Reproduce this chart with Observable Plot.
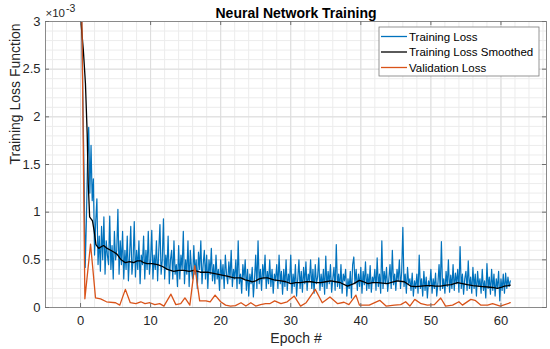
<!DOCTYPE html>
<html><head><meta charset="utf-8">
<script src="https://cdn.jsdelivr.net/npm/d3@7"></script>
<script src="https://cdn.jsdelivr.net/npm/@observablehq/plot@0.6"></script>
<style>
body{margin:0;background:#fff;}
#chart svg{display:block;}
</style></head><body><div id="chart"></div>
<script>
const title = "Neural Network Training";
const xLabel = "Epoch #";
const yLabel = "Training Loss Function";
const yExponentBase = "×10";
const yExponentPower = "-3";
const seriesNames = ["Training Loss", "Training Loss Smoothed", "Validation Loss"];
const seriesColors = ["#0072BD", "#000000", "#D95319"];
const xTicks = [0, 10, 20, 30, 40, 50, 60];
const yTicks = [0, 0.5, 1, 1.5, 2, 2.5, 3];
const yTickLabels = ["0", "0.5", "1", "1.5", "2", "2.5", "3"];
const iterationsPerEpoch = 6;

// Training loss (x10^-3), one row per epoch, 6 iterations each
const trainingLoss = [
  3.6, 3.0, 2.2, 1.4, 0.42, 0.9,
  1.55, 1.89, 1.2, 1.7, 1.12, 1.35,
  0.55, 0.9, 1.14, 0.45, 0.75, 0.38,
  0.85, 0.5, 0.95, 0.35, 0.7, 0.55,
  0.45, 0.96, 0.4, 0.65, 0.3, 0.8,
  0.5, 0.6, 1.03, 0.35, 0.7, 0.45,
  0.8, 0.3, 0.6, 0.4, 0.75, 0.28,
  0.55, 0.85, 0.35, 0.5, 0.9, 0.32,
  0.6, 0.4, 0.7, 0.25, 0.55, 0.45,
  0.75, 0.3, 0.6, 0.4, 0.8, 0.35,
  0.5, 0.81, 0.3, 0.55, 0.4, 0.7,
  0.28, 0.6, 0.87, 0.35, 0.5, 0.93,
  0.3, 0.55, 0.4, 0.75, 0.25, 0.5,
  0.6, 0.3, 0.7, 0.35, 0.45, 0.22,
  0.65, 0.3, 0.55, 0.4, 0.8, 0.25,
  0.5, 0.35, 0.7, 0.22, 0.6, 0.4,
  0.3, 0.65, 0.35, 0.5, 0.2, 0.58,
  0.4, 0.7, 0.25, 0.45, 0.6, 0.3,
  0.55, 0.2, 0.5, 0.35, 0.62, 0.28,
  0.45, 0.25, 0.55, 0.3, 0.4, 0.18,
  0.5, 0.3, 0.45, 0.2, 0.55, 0.35,
  0.25, 0.48, 0.3, 0.6, 0.22, 0.4,
  0.3, 0.5, 0.2, 0.7, 0.25, 0.35,
  0.15, 0.45, 0.3, 0.5, 0.18, 0.4,
  0.12, 0.35, 0.25, 0.42, 0.11, 0.3,
  0.55, 0.2, 0.7, 0.25, 0.4, 0.18,
  0.45, 0.3, 0.55, 0.2, 0.38, 0.25,
  0.5, 0.22, 0.4, 0.15, 0.35, 0.28,
  0.45, 0.2, 0.55, 0.25, 0.38, 0.14,
  0.4, 0.22, 0.5, 0.18, 0.35, 0.26,
  0.55, 0.15, 0.35, 0.22, 0.45, 0.12,
  0.3, 0.5, 0.2, 0.38, 0.16, 0.42,
  0.25, 0.48, 0.18, 0.35, 0.28, 0.5,
  0.2, 0.4, 0.15, 0.45, 0.25, 0.32,
  0.52, 0.18, 0.35, 0.22, 0.4, 0.14,
  0.54, 0.2, 0.38, 0.25, 0.45, 0.16,
  0.3, 0.42, 0.18, 0.66, 0.22, 0.35,
  0.2, 0.45, 0.15, 0.35, 0.28, 0.4,
  0.12, 0.3, 0.2, 0.38, 0.1, 0.45,
  0.53, 0.25, 0.4, 0.18, 0.35, 0.22,
  0.42, 0.15, 0.38, 0.24, 0.48, 0.18,
  0.35, 0.2, 0.44, 0.16, 0.32, 0.26,
  0.4, 0.18, 0.52, 0.22, 0.35, 0.15,
  0.7, 0.2, 0.38, 0.25, 0.42, 0.17,
  0.3, 0.45, 0.2, 0.6, 0.24, 0.35,
  0.18, 0.4, 0.28, 0.5, 0.2, 0.38,
  0.84, 0.22, 0.35, 0.15, 0.42, 0.25,
  0.3, 0.18, 0.36, 0.12, 0.28, 0.2,
  0.35, 0.15, 0.55, 0.2, 0.3, 0.12,
  0.38, 0.18, 0.32, 0.1, 0.28, 0.22,
  0.4, 0.15, 0.3, 0.2, 0.36, 0.12,
  0.25, 0.45, 0.18, 0.69, 0.2, 0.3,
  0.15, 0.38, 0.22, 0.5, 0.16, 0.34,
  0.2, 0.45, 0.18, 0.36, 0.25, 0.4,
  0.16, 0.64, 0.2, 0.35, 0.14, 0.3,
  0.38, 0.18, 0.49, 0.2, 0.32, 0.15,
  0.42, 0.2, 0.35, 0.12, 0.38, 0.22,
  0.3, 0.15, 0.4, 0.18, 0.28, 0.1,
  0.46, 0.2, 0.32, 0.14, 0.4, 0.18,
  0.35, 0.12, 0.3, 0.2, 0.38, 0.07,
  0.3, 0.18, 0.35, 0.15, 0.36, 0.2,
  0.32, 0.22, 0.28
];

const smoothedEpoch = [0,0.4,0.7,0.95,1.1,1.3,1.5,1.7,1.93,2.2,2.6,3.0,3.3,3.8,4.3,4.8,5.2,5.8,6.4,7.0,7.6,8.1,8.6,9.0,9.5,10.2,11.0,11.7,12.4,13.3,14.0,14.8,15.5,16.2,17.1,18.1,18.8,19.5,20.2,20.9,21.9,22.9,23.5,24.1,24.5,25.0,25.5,26.1,26.7,27.6,28.6,29.3,30.0,30.7,31.4,32.2,32.9,33.6,34.3,35.0,35.7,36.4,37.1,38.1,39.0,39.8,40.4,41.0,41.7,42.4,43.1,43.8,44.5,45.2,46.2,47.1,47.8,48.6,49.3,50.0,50.7,51.4,52.2,52.9,53.8,54.5,55.2,56.0,56.7,57.4,58.1,58.8,59.5,60.0,60.5,61.0,61.33];
const smoothedLoss = [3.05,2.7,2.35,1.82,1.3,0.95,0.93,0.91,0.81,0.66,0.62,0.64,0.65,0.62,0.6,0.58,0.56,0.5,0.47,0.48,0.47,0.49,0.49,0.47,0.46,0.46,0.45,0.43,0.40,0.38,0.39,0.39,0.38,0.39,0.37,0.37,0.36,0.35,0.34,0.33,0.31,0.31,0.29,0.28,0.27,0.28,0.30,0.31,0.31,0.29,0.28,0.27,0.25,0.26,0.26,0.27,0.27,0.26,0.26,0.27,0.28,0.27,0.26,0.225,0.25,0.285,0.27,0.25,0.26,0.26,0.255,0.25,0.265,0.28,0.27,0.225,0.22,0.225,0.23,0.23,0.225,0.225,0.235,0.24,0.26,0.25,0.24,0.23,0.225,0.22,0.215,0.21,0.20,0.21,0.225,0.23,0.235];

const validationEpoch = [0,0.62,1.43,2.14,2.86,3.7,5.0,5.6,6.4,7.1,7.9,8.6,9.2,9.9,10.6,11.3,11.9,12.9,13.6,14.3,14.9,15.6,16.3,17.0,17.9,18.5,19.2,20.0,20.7,21.4,22.1,22.9,23.6,24.3,25.0,25.7,26.4,27.0,27.7,28.6,29.5,30.5,31.4,32.2,33.5,34.5,35.6,36.7,37.6,38.3,39.3,39.8,41.2,42.7,43.6,44.8,45.7,46.4,47.0,47.7,48.6,49.5,50.5,51.4,52.1,53.1,54.0,54.5,55.7,56.3,57.1,58.1,58.8,59.9,61.33];
const validationLoss = [4.4,0.092,0.665,0.10,0.09,0.06,0.05,0.025,0.19,0.05,0.04,0.06,0.04,0.05,0.03,0.04,0.015,0.14,0.03,0.04,0.10,0.025,0.44,0.07,0.07,0.06,0.13,0.06,0.025,0.015,0.02,0.05,0.015,0.05,0.015,0.03,0.04,0.04,0.07,0.04,0.06,0.12,0.015,0.05,0.19,0.05,0.11,0.04,0.055,0.03,0.13,0.025,0.025,0.075,0.015,0.025,0.03,0.06,0.015,0.085,0.04,0.025,0.03,0.10,0.015,0.025,0.06,0.025,0.085,0.075,0.025,0.025,0.04,0.015,0.05];

const train = trainingLoss.map((v, i) => ({epoch: i / iterationsPerEpoch, loss: v}));
const smooth = smoothedEpoch.map((e, i) => ({epoch: e, loss: smoothedLoss[i]}));
const valid = validationEpoch.map((e, i) => ({epoch: e, loss: validationLoss[i]}));

const W = 550, H = 349;
const mT = 21, mL = 45, mR = 4, mB = 42;
const frameW = W - mL - mR, frameH = H - mT - mB;
const xMinor = d3.range(-4, 67, 2);
const yMinor = d3.range(0, 3.0001, 0.1);
const font = "'Liberation Sans', Arial, Helvetica, sans-serif";

const chart = Plot.plot({
  width: W, height: H,
  marginTop: mT, marginLeft: mL, marginRight: mR, marginBottom: mB,
  style: {fontFamily: font, fontSize: "13px", color: "#262626", background: "#fff"},
  x: {domain: [-5, 66.5]},
  y: {domain: [0, 3]},
  marks: [
    Plot.gridX(xMinor, {stroke: "#ececec", strokeOpacity: 1}),
    Plot.gridY(yMinor, {stroke: "#ececec", strokeOpacity: 1}),
    Plot.gridX(xTicks, {stroke: "#dcdcdc", strokeOpacity: 1}),
    Plot.gridY(yTicks, {stroke: "#dcdcdc", strokeOpacity: 1}),
    Plot.line(train, {x: "epoch", y: "loss", stroke: seriesColors[0], strokeWidth: 1.2, clip: true}),
    Plot.line(smooth, {x: "epoch", y: "loss", stroke: seriesColors[1], strokeWidth: 1.3, clip: true}),
    Plot.line(valid, {x: "epoch", y: "loss", stroke: seriesColors[2], strokeWidth: 1.3, clip: true}),
    Plot.frame({stroke: "#8a8a8a"}),
    Plot.tickX(xTicks, {x: d => d, insetTop: frameH - 4, stroke: "#707070"}),
    Plot.tickX(xTicks, {x: d => d, insetBottom: frameH - 4, stroke: "#707070"}),
    Plot.tickY(yTicks, {y: d => d, insetRight: frameW - 4, stroke: "#707070"}),
    Plot.tickY(yTicks, {y: d => d, insetLeft: frameW - 4, stroke: "#707070"}),
    Plot.axisX(xTicks, {tickSize: 0, tickPadding: 8, fontSize: 13, fill: "#262626", label: null}),
    Plot.axisY(yTicks, {tickSize: 0, tickPadding: 5, fontSize: 13, fill: "#262626", label: null,
      tickFormat: d => yTickLabels[yTicks.indexOf(d)]}),
    Plot.text([title], {frameAnchor: "top", dy: -8, lineAnchor: "middle", fontSize: 14, fontWeight: "bold", fill: "#000"}),
    Plot.text([xLabel], {frameAnchor: "bottom", dy: 31, lineAnchor: "middle", fontSize: 14, fill: "#262626"}),
    Plot.text([yLabel], {frameAnchor: "left", dx: -30, rotate: -90, lineAnchor: "middle", fontSize: 14, fill: "#262626"}),
    Plot.text([yExponentBase], {frameAnchor: "top-left", textAnchor: "start", dx: 0, dy: -8, lineAnchor: "middle", fontSize: 11.5, fill: "#262626"}),
    Plot.text([yExponentPower], {frameAnchor: "top-left", textAnchor: "start", dx: 20.5, dy: -13, lineAnchor: "middle", fontSize: 10.5, fill: "#262626"})
  ]
});

document.getElementById("chart").appendChild(chart);

// Legend inside the axes, top-right
const svg = d3.select(chart);
const lgW = 160, lgH = 49;
const lg = svg.append("g").attr("transform", `translate(${W - mR - 7 - lgW},${mT + 6})`);
lg.append("rect").attr("width", lgW).attr("height", lgH).attr("fill", "#fff").attr("stroke", "#7a7a7a").attr("stroke-width", 0.8);
seriesNames.forEach((name, i) => {
  const y = 9.5 + i * 15.5;
  lg.append("line").attr("x1", 2).attr("x2", 28).attr("y1", y).attr("y2", y)
    .attr("stroke", seriesColors[i]).attr("stroke-width", 1.3);
  lg.append("text").attr("x", 30).attr("y", y).attr("dy", "0.35em")
    .attr("text-anchor", "start")
    .attr("font-family", font).attr("font-size", 11.5).attr("fill", "#000").text(name);
});
</script>
</body></html>
